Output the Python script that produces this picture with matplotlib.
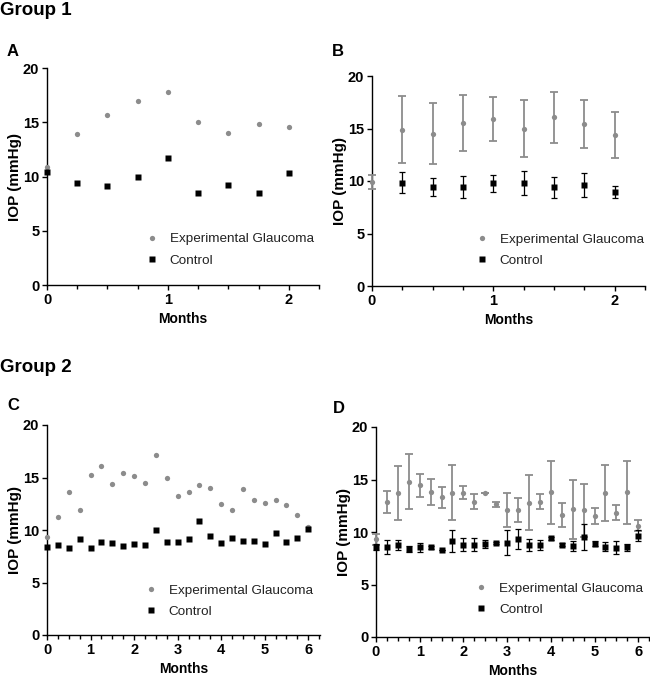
import matplotlib
matplotlib.use("Agg")
import matplotlib.pyplot as plt
from matplotlib.lines import Line2D
from matplotlib.ticker import MultipleLocator

plt.rcParams["font.family"] = ["Liberation Sans", "DejaVu Sans"]

GRAY = "#8c8c8c"
BLACK = "#000000"

# Group 1, panel A (individual eye)
months_g1 = [0, 0.25, 0.5, 0.75, 1, 1.25, 1.5, 1.75, 2]
a_glaucoma = [10.9, 13.9, 15.7, 17.0, 17.8, 15.0, 14.0, 14.8, 14.6]
a_control = [10.4, 9.4, 9.1, 10.0, 11.7, 8.5, 9.2, 8.5, 10.3]

# Group 1, panel B (mean +/- SD)
b_glaucoma = [9.9, 14.9, 14.5, 15.55, 15.9, 15.0, 16.05, 15.4, 14.4]
b_glaucoma_err = [0.7, 3.2, 2.9, 2.65, 2.1, 2.7, 2.45, 2.3, 2.2]
months_b_control = [0.25, 0.5, 0.75, 1, 1.25, 1.5, 1.75, 2]
b_control = [9.85, 9.45, 9.4, 9.8, 9.8, 9.4, 9.6, 8.95]
b_control_err = [1.0, 0.85, 1.05, 0.8, 1.15, 1.0, 1.15, 0.55]

# Group 2, panel C (individual eye)
months_g2 = [i * 0.25 for i in range(25)]
c_glaucoma = [9.3, 11.2, 13.65, 11.9, 15.25, 16.05, 14.4, 15.4, 15.15,
              14.5, 17.1, 14.95, 13.2, 13.6, 14.25, 14.0, 12.45, 11.9,
              13.9, 12.85, 12.6, 12.85, 12.4, 11.4, 10.25]
c_control = [8.4, 8.55, 8.3, 9.1, 8.3, 8.85, 8.75, 8.5, 8.7, 8.55, 10.0,
             8.85, 8.85, 9.1, 10.9, 9.4, 8.8, 9.2, 9.0, 8.95, 8.7, 9.7,
             8.9, 9.2, 10.1]

# Group 2, panel D (mean +/- SD)
d_glaucoma = [9.3, 12.85, 13.7, 14.8, 14.45, 13.8, 13.3, 13.75, 13.75,
              12.9, 13.7, 12.65, 12.1, 12.1, 12.8, 12.9, 13.8, 11.6, 12.15,
              12.05, 11.55, 13.7, 11.85, 13.8, 10.6]
d_glaucoma_err = [0.5, 1.05, 2.55, 2.6, 1.1, 1.25, 1.0, 2.6, 0.65, 0.7, 0.0,
                  0.25, 1.6, 1.1, 2.6, 0.7, 3.0, 1.15, 2.8, 2.5, 0.75, 2.65,
                  0.7, 3.0, 0.55]
d_control = [8.6, 8.6, 8.75, 8.4, 8.55, 8.55, 8.25, 9.1, 8.8, 8.8, 8.85,
             8.95, 9.0, 9.3, 8.75, 8.75, 9.4, 8.8, 8.65, 9.5, 8.9, 8.6, 8.5,
             8.55, 9.65]
d_control_err = [0.3, 0.65, 0.5, 0.3, 0.45, 0.15, 0.0, 1.05, 0.6, 0.6, 0.35,
                 0.1, 1.2, 0.95, 0.6, 0.45, 0.15, 0.15, 0.45, 1.25, 0.2, 0.45,
                 0.6, 0.35, 0.55]

LABEL_GLAUCOMA = "Experimental Glaucoma"
LABEL_CONTROL = "Control"


def style_axes(ax, xmax, major):
    ax.set_xlim(0, xmax)
    ax.set_ylim(0, 20)
    ax.spines["top"].set_visible(False)
    ax.spines["right"].set_visible(False)
    for s in ("left", "bottom"):
        ax.spines[s].set_linewidth(1.0)
    ax.xaxis.set_major_locator(MultipleLocator(major))
    ax.xaxis.set_minor_locator(MultipleLocator(0.25))
    ax.yaxis.set_major_locator(MultipleLocator(5))
    ax.tick_params(axis="both", which="major", length=3.5, width=1.0,
                   labelsize=10.5, pad=2)
    ax.tick_params(axis="x", which="minor", length=3, width=1.0)
    for lab in ax.get_xticklabels() + ax.get_yticklabels():
        lab.set_fontweight("bold")
    ax.set_ylabel("IOP (mmHg)", fontsize=11, fontweight="bold", labelpad=1)
    ax.set_xlabel("Months", fontsize=10, fontweight="bold", labelpad=4)


def add_legend(ax, x0, y0):
    handles = [
        Line2D([], [], ls="none", marker="o", color=GRAY, ms=3.8, mec="none"),
        Line2D([], [], ls="none", marker="s", color=BLACK, ms=4.2, mec="none"),
    ]
    ax.legend(handles, [LABEL_GLAUCOMA, LABEL_CONTROL], loc="lower left",
              bbox_to_anchor=(x0, y0), frameon=False, fontsize=9.7,
              handlelength=1.0, handletextpad=0.85, labelspacing=0.65,
              borderpad=0, borderaxespad=0, labelcolor="#222222")


def scatter_panel(ax, x, glaucoma, control):
    ax.plot(x, glaucoma, "o", color=GRAY, ms=3.8, mec="none",
            clip_on=False, zorder=3)
    ax.plot(x, control, "s", color=BLACK, ms=4.2, mec="none",
            clip_on=False, zorder=4)


def errorbar_panel(ax, xg, g, gerr, xc, c, cerr):
    ax.errorbar(xg, g, yerr=gerr, fmt="o", color=GRAY, ms=3.8, mec="none",
                ecolor=GRAY, elinewidth=1.3, capsize=2.6, capthick=1.3,
                clip_on=False, zorder=3)
    ax.errorbar(xc, c, yerr=cerr, fmt="s", color=BLACK, ms=4.2, mec="none",
                ecolor=BLACK, elinewidth=0.9, capsize=2.4, capthick=0.9,
                clip_on=False, zorder=4)


fig = plt.figure(figsize=(6.5, 6.8), dpi=100)

ax_a = fig.add_axes([47 / 650, 1 - 285 / 680, 272 / 650, 217 / 680])
ax_b = fig.add_axes([372 / 650, 1 - 286 / 680, 273 / 650, 210 / 680])
ax_c = fig.add_axes([47 / 650, 1 - 635 / 680, 273 / 650, 210 / 680])
ax_d = fig.add_axes([376 / 650, 1 - 637 / 680, 274 / 650, 210 / 680])

scatter_panel(ax_a, months_g1, a_glaucoma, a_control)
style_axes(ax_a, 2.25, 1)
add_legend(ax_a, 0.36, 0.085)

errorbar_panel(ax_b, months_g1, b_glaucoma, b_glaucoma_err,
               months_b_control, b_control, b_control_err)
style_axes(ax_b, 2.25, 1)
add_legend(ax_b, 0.377, 0.09)

scatter_panel(ax_c, months_g2, c_glaucoma, c_control)
style_axes(ax_c, 6.27, 1)
add_legend(ax_c, 0.355, 0.08)

errorbar_panel(ax_d, months_g2, d_glaucoma, d_glaucoma_err,
               months_g2, d_control, d_control_err)
style_axes(ax_d, 6.27, 1)
add_legend(ax_d, 0.358, 0.1)

# group headings and panel letters
fig.text(0 / 650, 1 - 15 / 680, "Group 1", fontsize=13.5, fontweight="bold",
         va="baseline")
fig.text(0 / 650, 1 - 372 / 680, "Group 2", fontsize=13.5, fontweight="bold",
         va="baseline")
for letter, (px, py) in {"A": (7, 56), "B": (332, 56),
                         "C": (7, 410), "D": (333, 413)}.items():
    fig.text(px / 650, 1 - py / 680, letter, fontsize=12, fontweight="bold",
             va="baseline")

fig.savefig("out.png", dpi=100)
